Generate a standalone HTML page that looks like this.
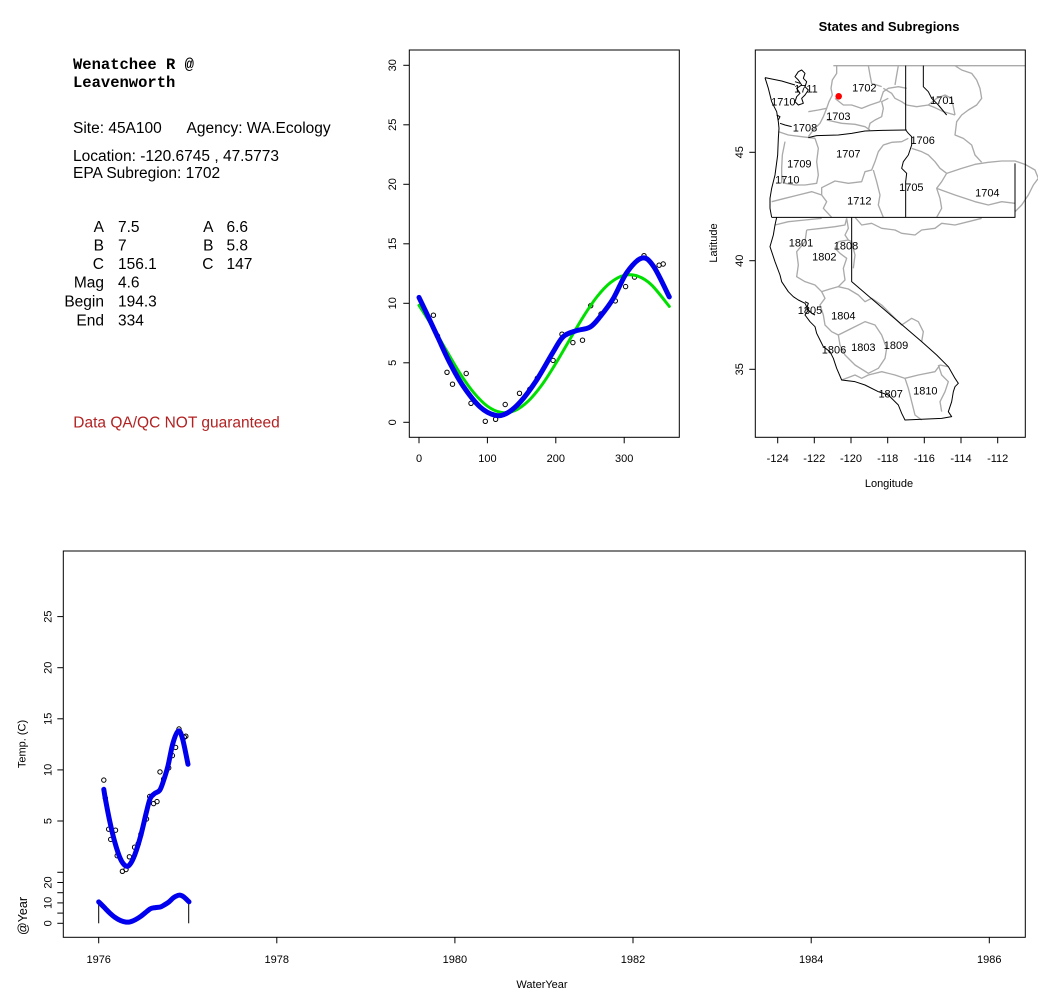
<!DOCTYPE html>
<html><head><meta charset="utf-8"><style>
html,body{margin:0;padding:0;background:#fff;}
svg{display:block;font-family:"Liberation Sans",Arial,sans-serif;}
</style></head><body>
<svg id="main" width="1038" height="1001" viewBox="0 0 1038 1001" xmlns="http://www.w3.org/2000/svg">
<rect width="1038" height="1001" fill="#fff"/>

<!-- ============ LEFT TEXT PANEL ============ -->
<g font-family="'Liberation Mono',monospace" font-weight="bold" font-size="15.5" fill="#000">
<text x="73" y="69">Wenatchee R @</text>
<text x="73" y="87">Leavenworth</text>
</g>
<g font-size="15.5" fill="#000">
<text x="73" y="133">Site: 45A100</text>
<text x="186.5" y="133">Agency: WA.Ecology</text>
<text x="73" y="161">Location: -120.6745 , 47.5773</text>
<text x="73" y="178">EPA Subregion: 1702</text>
<g text-anchor="end">
<text x="104" y="232">A</text>
<text x="104" y="250.5">B</text>
<text x="104" y="269">C</text>
<text x="104" y="287.5">Mag</text>
<text x="104" y="306.5">Begin</text>
<text x="104" y="325.5">End</text>
<text x="213.5" y="232">A</text>
<text x="213.5" y="250.5">B</text>
<text x="213.5" y="269">C</text>
</g>
<text x="118" y="232">7.5</text>
<text x="118" y="250.5">7</text>
<text x="118" y="269">156.1</text>
<text x="118" y="287.5">4.6</text>
<text x="118" y="306.5">194.3</text>
<text x="118" y="325.5">334</text>
<text x="226.5" y="232">6.6</text>
<text x="226.5" y="250.5">5.8</text>
<text x="226.5" y="269">147</text>
<text x="73.3" y="427.3" fill="#b22222">Data QA/QC NOT guaranteed</text>
</g>

<!-- ============ MIDDLE PLOT ============ -->
<rect x="409.3" y="50" width="270" height="387.3" fill="none" stroke="#000" stroke-width="1"/>
<g stroke="#000" stroke-width="1">
<line x1="403.3" y1="422.3" x2="409.3" y2="422.3"/>
<line x1="403.3" y1="362.8" x2="409.3" y2="362.8"/>
<line x1="403.3" y1="303.3" x2="409.3" y2="303.3"/>
<line x1="403.3" y1="243.8" x2="409.3" y2="243.8"/>
<line x1="403.3" y1="184.3" x2="409.3" y2="184.3"/>
<line x1="403.3" y1="124.8" x2="409.3" y2="124.8"/>
<line x1="403.3" y1="65.3" x2="409.3" y2="65.3"/>
<line x1="419" y1="437.3" x2="419" y2="443.3"/>
<line x1="487.4" y1="437.3" x2="487.4" y2="443.3"/>
<line x1="555.8" y1="437.3" x2="555.8" y2="443.3"/>
<line x1="624.2" y1="437.3" x2="624.2" y2="443.3"/>
</g>
<g font-size="11" fill="#000" text-anchor="middle">
<text transform="translate(396,422.3) rotate(-90)">0</text>
<text transform="translate(396,362.8) rotate(-90)">5</text>
<text transform="translate(396,303.3) rotate(-90)">10</text>
<text transform="translate(396,243.8) rotate(-90)">15</text>
<text transform="translate(396,184.3) rotate(-90)">20</text>
<text transform="translate(396,124.8) rotate(-90)">25</text>
<text transform="translate(396,65.3) rotate(-90)">30</text>
<text x="419" y="462">0</text>
<text x="487.4" y="462">100</text>
<text x="555.8" y="462">200</text>
<text x="624.2" y="462">300</text>
</g>
<g fill="none" stroke="#000" stroke-width="1">
<circle cx="433.4" cy="315.2" r="2.2"/><circle cx="437.5" cy="336" r="2.2"/>
<circle cx="447" cy="372.3" r="2.2"/><circle cx="452.5" cy="384.2" r="2.2"/>
<circle cx="466.2" cy="373.5" r="2.2"/><circle cx="471" cy="403.3" r="2.2"/>
<circle cx="485.3" cy="421.3" r="2.2"/><circle cx="495.6" cy="419.3" r="2.2"/>
<circle cx="505.2" cy="404.5" r="2.2"/><circle cx="519.5" cy="393.3" r="2.2"/>
<circle cx="529.8" cy="389.3" r="2.2"/><circle cx="537.3" cy="378.3" r="2.2"/>
<circle cx="553.1" cy="360.4" r="2.2"/><circle cx="562" cy="334.2" r="2.2"/>
<circle cx="572.9" cy="342.6" r="2.2"/><circle cx="582.5" cy="340.2" r="2.2"/>
<circle cx="590.7" cy="305.7" r="2.2"/><circle cx="601" cy="314" r="2.2"/>
<circle cx="615.3" cy="300.9" r="2.2"/><circle cx="625.6" cy="286.6" r="2.2"/>
<circle cx="634.5" cy="277.1" r="2.2"/><circle cx="644" cy="255.7" r="2.2"/>
<circle cx="659.1" cy="265.2" r="2.2"/><circle cx="663.2" cy="264" r="2.2"/>
</g>
<polyline class="sm" fill="none" stroke="#00e000" stroke-width="3" stroke-linejoin="round" stroke-linecap="round"
points="419,305.3 432.7,327 446.4,350.5 460,373.4 473.7,392.6 487.4,406.2 501.1,412.4 514.8,410.6 528.4,400.9 542.1,384.6 555.8,363.4 569.5,340 583.2,316.9 596.8,297 610.5,282.6 624.2,275.3 637.9,276.2 651.6,285 669.3,306.4"/>
<polyline class="sm" fill="none" stroke="#0000ee" stroke-width="5" stroke-linejoin="round" stroke-linecap="round"
points="419,297.4 425.8,311.6 437.5,336.6 449.8,362.8 463.5,386.6 479.9,406.8 494.9,415.2 506.6,413.4 520.2,402.1 536.6,380.1 553.1,352.1 563.3,336.6 576.3,330.7 590,327.1 600.3,316.4 613.3,298.5 626.9,272.4 642,258.1 653.6,266.4 669.3,296.9"/>

<!-- ============ MAP ============ -->
<text x="889" y="31" font-size="13" font-weight="bold" text-anchor="middle">States and Subregions</text>
<!-- gray subregions, zoom7 coords -->
<g transform="translate(755,55) scale(0.333333)" fill="none" stroke="#aaaaaa" stroke-width="4" stroke-linejoin="round">
<path d="M235,32 L810,32"/>
<path d="M245,32 L245,55 L232,75 L228,100 L232,120 L222,140 L215,160 L205,185 L195,205 L175,225 L160,245"/>
<path d="M215,195 L260,205 L300,208 L330,215 L345,225"/>
<path d="M340,225 L345,205 L360,195 L380,185 L385,160 L380,140 L400,130"/>
<path d="M240,130 L265,150 L290,150 L320,160 L345,150 L375,140 L385,110 L400,100 L430,95 L455,100"/>
<path d="M340,32 L345,60 L350,85 L380,95"/>
<path d="M430,32 L425,60 L420,90"/>
<path d="M385,100 L410,115 L420,130 L440,140 L455,150"/>
<path d="M600,32 L620,45 L650,55 L665,75 L675,100 L680,130 L665,150 L640,165 L620,180 L605,200 L600,240 L625,250 L650,270 L660,300 L680,322"/>
<path d="M455,150 L485,155 L520,150 L540,158 L565,170 L600,180"/>
<path d="M520,150 L545,130 L570,120 L590,130 L600,180"/>
<path d="M470,280 L500,290 L520,300 L540,320 L555,340 L575,355 L560,380 L545,400 L555,430 L560,460 L545,487"/>
<path d="M575,355 L620,340 L660,328 L700,322 L740,318 L780,318 L810,328 L840,345 L850,370 L835,390 L820,420 L800,450 L780,470"/>
<path d="M460,250 L440,260 L410,262 L385,270 L370,290 L360,320 L350,345 L330,350 L320,380 L280,385 L240,378 L200,398 L200,420 L215,440 L205,460 L230,487"/>
<path d="M355,345 L365,380 L375,420 L370,450 L385,487"/>
<path d="M180,250 L190,280 L185,320 L190,360 L185,385 L150,390 L120,390 L90,385 L80,360"/>
<path d="M90,260 L82,300 L80,340 L80,385"/>
<path d="M545,400 L600,420 L660,440 L700,450 L740,440 L780,445"/>
<path d="M160,170 L190,165 L215,160"/>
<path d="M70,230 L100,240 L140,245 L180,250"/>
<path d="M50,440 L90,430 L130,420 L170,410 L200,420"/>
</g>
<!-- gray CA, zoom8 coords -->
<g transform="translate(755,215) scale(0.333333)" fill="none" stroke="#aaaaaa" stroke-width="4" stroke-linejoin="round">
<path d="M300,7 L320,30 L350,25 L380,40 L420,45 L440,55 L480,60 L500,45 L540,40 L560,25 L600,30 L640,20 L680,10"/>
<path d="M155,45 L200,40 L240,35 L270,30 L275,10"/>
<path d="M155,45 L150,80 L125,110 L130,150 L125,185 L150,200 L180,210 L200,230 L225,222 L250,215 L270,195 L265,160 L275,130 L255,115 L240,100 L250,80 L280,75 L290,80"/>
<path d="M275,10 L280,40 L270,60 L280,75"/>
<path d="M290,80 L300,120 L295,160"/>
<path d="M200,230 L210,250 L195,270 L205,300 L210,330 L230,350 L250,360"/>
<path d="M250,215 L280,222 L310,240 L330,260 L350,250 L380,270 L410,300 L440,330 L470,310 L490,320 L505,350 L500,380"/>
<path d="M250,360 L280,345 L330,320 L360,330 L380,360 L395,400 L390,430 L370,460 L340,475 L300,450 L270,420 L255,390 Z"/>
<path d="M260,495 L300,480 L320,490 L340,480 L380,470 L420,480 L450,490 L490,480 L540,470 L555,450 L580,455"/>
<path d="M450,490 L460,520 L470,560 L480,600 L500,615"/>
<path d="M550,450 L560,480 L580,500 L570,530 L555,560 L560,590"/>
<path d="M60,30 L100,20 L150,15 L200,10"/>
</g>
<!-- black state lines, zoom7 coords -->
<g transform="translate(755,55) scale(0.333333)" fill="none" stroke="#000" stroke-width="3" stroke-linejoin="round">
<path d="M30,68 L40,100 L50,140 L65,170 L70,200 L72,220 L70,250 L68,300 L60,360 L50,400 L45,430 L45,460 L50,487"/>
<path d="M30,68 L80,78 L120,90"/>
<path d="M75,205 L90,210 L110,215"/>
<path d="M160,248 L185,242 L250,240 L290,235 L330,228 L380,226 L455,225"/>
<path d="M452,32 L452,225 L460,235 L470,245 L470,270 L460,300 L445,320 L440,340 L455,355 L452,380 L452,487"/>
<path d="M505,32 L505,95 L520,110 L530,130 L550,150 L575,180"/>
<path d="M50,487 L780,487 L780,325"/>
<path d="M130,50 L140,45 L150,55 L145,70 L155,80 L150,95 L160,105 L150,120 L140,130 L145,145 L130,150 L120,140 L125,125 L135,115 L125,100 L140,90 L130,75 L120,65 L130,50"/>
<path d="M120,80 L135,85"/>
<path d="M65,180 L75,185 L70,195"/>
</g>
<!-- black CA, zoom8 coords -->
<g transform="translate(755,215) scale(0.333333)" fill="none" stroke="#000" stroke-width="3" stroke-linejoin="round">
<path d="M65,7 L60,30 L55,60 L45,95 L60,140 L75,180 L80,200 L100,230 L115,245 L130,255 L150,265 L160,285 L150,300 L165,320 L180,335 L185,355 L195,375 L205,395 L225,410 L235,430 L245,460 L260,495 L300,500 L330,510 L370,530 L400,540 L430,570 L440,595 L450,615 L560,610 L590,605 L580,590 L590,560 L595,530 L600,515 L610,505 L600,490 L580,455 L545,420 L500,380 L430,320 L360,260 L290,200 L290,7"/>
<path d="M150,260 L160,265 L155,280 L170,295 L180,300"/>
</g>
<!-- map labels, zoom2 coords -->
<g transform="translate(700,10) scale(0.333333)" font-size="33" text-anchor="middle" fill="#000">
<text x="318" y="247">1711</text>
<text x="493" y="244">1702</text>
<text x="250" y="287">1710</text>
<text x="727" y="282">1701</text>
<text x="415" y="330">1703</text>
<text x="315" y="365">1708</text>
<text x="668" y="402">1706</text>
<text x="445" y="442">1707</text>
<text x="298" y="472">1709</text>
<text x="262" y="520">1710</text>
<text x="634" y="543">1705</text>
<text x="862" y="559">1704</text>
<text x="478" y="583">1712</text>
<text x="303" y="709">1801</text>
<text x="438" y="719">1808</text>
<text x="373" y="751">1802</text>
<text x="330" y="912">1805</text>
<text x="430" y="929">1804</text>
<text x="402" y="1030">1806</text>
<text x="490" y="1023">1803</text>
<text x="588" y="1017">1809</text>
<text x="572" y="1163">1807</text>
<text x="676" y="1154">1810</text>
</g>
<circle cx="838.7" cy="96.3" r="3.3" fill="#ff0000"/>
<rect x="755.3" y="50" width="270" height="387.3" fill="none" stroke="#000" stroke-width="1"/>
<g stroke="#000" stroke-width="1">
<line x1="777.7" y1="437.3" x2="777.7" y2="443.3"/>
<line x1="814.3" y1="437.3" x2="814.3" y2="443.3"/>
<line x1="851" y1="437.3" x2="851" y2="443.3"/>
<line x1="887.7" y1="437.3" x2="887.7" y2="443.3"/>
<line x1="924.3" y1="437.3" x2="924.3" y2="443.3"/>
<line x1="961" y1="437.3" x2="961" y2="443.3"/>
<line x1="997.7" y1="437.3" x2="997.7" y2="443.3"/>
<line x1="749.3" y1="152.3" x2="755.3" y2="152.3"/>
<line x1="749.3" y1="260.7" x2="755.3" y2="260.7"/>
<line x1="749.3" y1="369.3" x2="755.3" y2="369.3"/>
</g>
<g font-size="11" text-anchor="middle" fill="#000">
<text x="777.7" y="462">-124</text>
<text x="814.3" y="462">-122</text>
<text x="851" y="462">-120</text>
<text x="887.7" y="462">-118</text>
<text x="924.3" y="462">-116</text>
<text x="961" y="462">-114</text>
<text x="997.7" y="462">-112</text>
<text transform="translate(743,152.3) rotate(-90)">45</text>
<text transform="translate(743,260.7) rotate(-90)">40</text>
<text transform="translate(743,369.3) rotate(-90)">35</text>
<text x="889" y="487">Longitude</text>
<text transform="translate(717,243) rotate(-90)">Latitude</text>
</g>

<!-- ============ BOTTOM PLOT ============ -->
<rect x="63.3" y="551" width="962" height="386.3" fill="none" stroke="#000" stroke-width="1"/>
<g stroke="#000" stroke-width="1">
<line x1="57.3" y1="821" x2="63.3" y2="821"/>
<line x1="57.3" y1="769.9" x2="63.3" y2="769.9"/>
<line x1="57.3" y1="718.8" x2="63.3" y2="718.8"/>
<line x1="57.3" y1="667.7" x2="63.3" y2="667.7"/>
<line x1="57.3" y1="616.6" x2="63.3" y2="616.6"/>
<line x1="57.3" y1="923.3" x2="63.3" y2="923.3"/>
<line x1="57.3" y1="913.1" x2="63.3" y2="913.1"/>
<line x1="57.3" y1="902.9" x2="63.3" y2="902.9"/>
<line x1="57.3" y1="892.7" x2="63.3" y2="892.7"/>
<line x1="57.3" y1="882.5" x2="63.3" y2="882.5"/>
<line x1="57.3" y1="872.3" x2="63.3" y2="872.3"/>
<line x1="98.7" y1="937.3" x2="98.7" y2="943.3"/>
<line x1="276.8" y1="937.3" x2="276.8" y2="943.3"/>
<line x1="454.9" y1="937.3" x2="454.9" y2="943.3"/>
<line x1="633" y1="937.3" x2="633" y2="943.3"/>
<line x1="811.2" y1="937.3" x2="811.2" y2="943.3"/>
<line x1="989.3" y1="937.3" x2="989.3" y2="943.3"/>
</g>
<g font-size="11" text-anchor="middle" fill="#000">
<text transform="translate(51.5,821) rotate(-90)">5</text>
<text transform="translate(51.5,769.9) rotate(-90)">10</text>
<text transform="translate(51.5,718.8) rotate(-90)">15</text>
<text transform="translate(51.5,667.7) rotate(-90)">20</text>
<text transform="translate(51.5,616.6) rotate(-90)">25</text>
<text transform="translate(51.5,923.3) rotate(-90)">0</text>
<text transform="translate(51.5,902.9) rotate(-90)">10</text>
<text transform="translate(51.5,882.5) rotate(-90)">20</text>
<text transform="translate(25.7,744) rotate(-90)">Temp. (C)</text>
<text transform="translate(27,916) rotate(-90)" font-size="12.5">@Year</text>
<text x="98.7" y="963">1976</text>
<text x="276.8" y="963">1978</text>
<text x="454.9" y="963">1980</text>
<text x="633" y="963">1982</text>
<text x="811.2" y="963">1984</text>
<text x="989.3" y="963">1986</text>
<text x="542" y="988">WaterYear</text>
</g>
<g fill="none" stroke="#000" stroke-width="1">
<circle cx="103.8" cy="780.1" r="2.2"/><circle cx="105.3" cy="798" r="2.2"/>
<circle cx="108.7" cy="829.2" r="2.2"/><circle cx="110.7" cy="839.4" r="2.2"/>
<circle cx="115.5" cy="830.2" r="2.2"/><circle cx="117.2" cy="855.7" r="2.2"/>
<circle cx="122.4" cy="871.3" r="2.2"/><circle cx="126" cy="869.5" r="2.2"/>
<circle cx="129.4" cy="856.8" r="2.2"/><circle cx="134.6" cy="847.2" r="2.2"/>
<circle cx="138.2" cy="843.8" r="2.2"/><circle cx="140.9" cy="834.3" r="2.2"/>
<circle cx="146.5" cy="819" r="2.2"/><circle cx="149.7" cy="796.5" r="2.2"/>
<circle cx="153.6" cy="803.6" r="2.2"/><circle cx="157" cy="801.6" r="2.2"/>
<circle cx="160" cy="771.9" r="2.2"/><circle cx="163.6" cy="779.1" r="2.2"/>
<circle cx="168.7" cy="767.9" r="2.2"/><circle cx="172.4" cy="755.6" r="2.2"/>
<circle cx="175.6" cy="747.4" r="2.2"/><circle cx="179" cy="729" r="2.2"/>
<circle cx="184.3" cy="737.2" r="2.2"/><circle cx="185.8" cy="736.2" r="2.2"/>
</g>
<polyline class="sm" fill="none" stroke="#0000ee" stroke-width="5" stroke-linejoin="round" stroke-linecap="round"
points="103.8,789.3 105.3,798.5 109.7,821 114.6,841.4 120.4,858.8 125.8,866 129.9,864.4 134.8,854.7 140.7,835.8 146.5,811.8 150.2,798.5 154.8,793.4 159.7,790.3 163.4,781.1 168,765.8 172.9,743.3 178.2,731.1 182.4,738.2 188,764.3"/>
<g stroke="#000" stroke-width="1">
<line x1="98.7" y1="901.9" x2="98.7" y2="923.3"/>
<line x1="188.7" y1="901.5" x2="188.7" y2="923.3"/>
</g>
<polyline class="sm" fill="none" stroke="#0000ee" stroke-width="5" stroke-linejoin="round" stroke-linecap="round"
points="98.7,901.9 101.2,904.3 105.4,908.6 109.8,913.1 114.7,917.2 120.6,920.6 126.1,922.1 130.3,921.8 135.2,919.8 141.1,916.1 147,911.3 150.7,908.6 155.4,907.6 160.4,907 164,905.1 168.7,902.1 173.7,897.6 179.1,895.2 183.3,896.6 189,901.8"/>
</svg>
<script>
(function(){
  var NS="http://www.w3.org/2000/svg";
  var pls=document.querySelectorAll("polyline.sm");
  for(var k=0;k<pls.length;k++){
    var pl=pls[k];
    var raw=pl.getAttribute("points").trim().split(/\s+/);
    var p=[];
    for(var i=0;i<raw.length;i++){var a=raw[i].split(",");p.push([+a[0],+a[1]]);}
    var d="M"+p[0][0]+","+p[0][1];
    for(var i=0;i<p.length-1;i++){
      var p0=p[i-1]||p[i],p1=p[i],p2=p[i+1],p3=p[i+2]||p2;
      var c1=[p1[0]+(p2[0]-p0[0])/6,p1[1]+(p2[1]-p0[1])/6];
      var c2=[p2[0]-(p3[0]-p1[0])/6,p2[1]-(p3[1]-p1[1])/6];
      d+=" C"+c1[0].toFixed(2)+","+c1[1].toFixed(2)+" "+c2[0].toFixed(2)+","+c2[1].toFixed(2)+" "+p2[0]+","+p2[1];
    }
    var path=document.createElementNS(NS,"path");
    var attrs=["fill","stroke","stroke-width","stroke-linejoin","stroke-linecap"];
    for(var j=0;j<attrs.length;j++){path.setAttribute(attrs[j],pl.getAttribute(attrs[j]));}
    path.setAttribute("d",d);
    pl.parentNode.replaceChild(path,pl);
  }
})();
</script>
</body></html>
